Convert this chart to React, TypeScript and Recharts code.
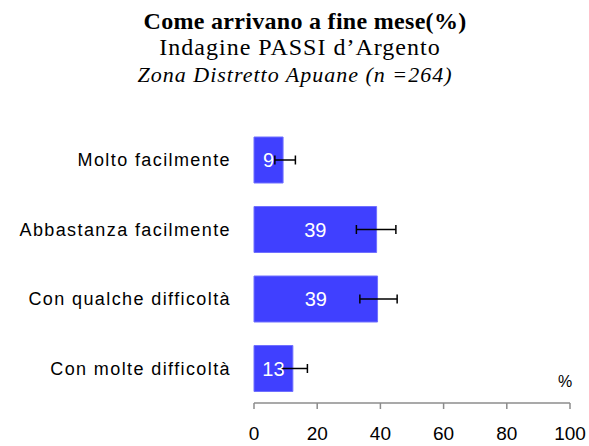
import { Bar, BarChart, ErrorBar, LabelList, XAxis, YAxis } from "recharts";

const categorie = [
  "Molto facilmente",
  "Abbastanza facilmente",
  "Con qualche difficoltà",
  "Con molte difficoltà",
];
const valori = [9.2, 38.8, 39.1, 12.3];
const etichette = ["9", "39", "39", "13"];
const ciInf = [6.6, 32.4, 33.5, 8.7];
const ciSup = [13.1, 44.9, 45.3, 16.9];
const tickX = [0, 20, 40, 60, 80, 100];

const data = categorie.map((c, i) => ({
  cat: c,
  val: valori[i],
  lbl: etichette[i],
  err: [valori[i] - ciInf[i], ciSup[i] - valori[i]],
}));

const sans = "'Liberation Sans', Arial, sans-serif";
const serif = "'Liberation Serif', 'Times New Roman', serif";

export default function App() {
  return (
    <div style={{ position: "absolute", left: 0, top: 0, width: 589, height: 446, background: "#fff" }}>
      <BarChart
        width={589}
        height={446}
        data={data}
        layout="vertical"
        margin={{ top: 125, right: 19, left: 0, bottom: 1 }}
      >
        <XAxis
          type="number"
          domain={[0, 100]}
          ticks={tickX}
          height={42}
          axisLine={{ stroke: "#8c8c8c", strokeWidth: 1.5 }}
          tickLine={{ stroke: "#8c8c8c", strokeWidth: 1.5 }}
          tickSize={6}
          tickMargin={18}
          tick={{ fontSize: 19, fill: "#000", fontFamily: sans }}
        />
        <YAxis
          type="category"
          dataKey="cat"
          width={254}
          axisLine={false}
          tickLine={false}
          tickSize={0}
          tickMargin={23}
          tick={{ fontSize: 18, fill: "#000", fontFamily: sans, letterSpacing: 1.4 }}
        />
        <Bar dataKey="val" fill="#4040ff" stroke="#7070ff" strokeWidth={1} barSize={46} isAnimationActive={false}>
          <LabelList dataKey="lbl" position="center" fill="#fff" fontSize={20} fontFamily={sans} />
          <ErrorBar dataKey="err" direction="x" width={4.5} stroke="#000" strokeWidth={1.5} isAnimationActive={false} />
        </Bar>
      </BarChart>
      <svg width={589} height={446} style={{ position: "absolute", left: 0, top: 0, pointerEvents: "none" }}>
        <text x={305} y={29} textAnchor="middle" fontFamily={serif} fontWeight="bold" fontSize={24} letterSpacing={0.3} fill="#000">
          Come arrivano a fine mese(%)
        </text>
        <text x={300} y={55} textAnchor="middle" fontFamily={serif} fontSize={24} letterSpacing={1} fill="#000">
          Indagine PASSI d’Argento
        </text>
        <text x={295} y={82} textAnchor="middle" fontFamily={serif} fontStyle="italic" fontSize={22} letterSpacing={1} fill="#000">
          Zona Distretto Apuane (n =264)
        </text>
        <text x={565} y={387} textAnchor="middle" fontFamily={sans} fontSize={16} fill="#000">
          %
        </text>
      </svg>
    </div>
  );
}
